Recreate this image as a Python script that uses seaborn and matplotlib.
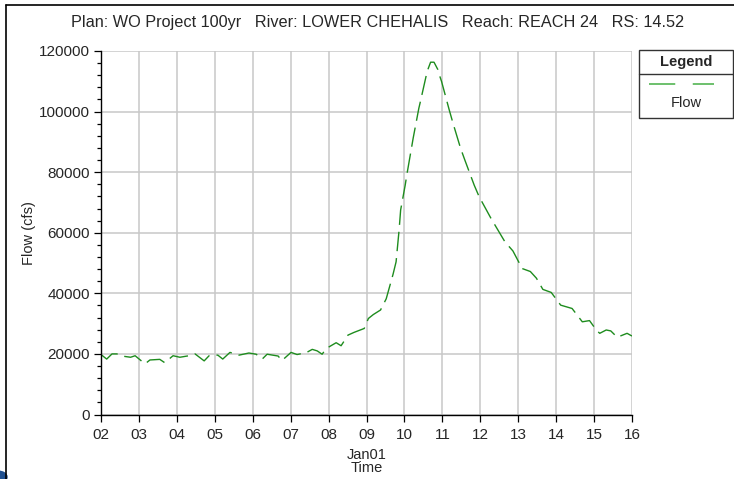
import numpy as np
import pandas as pd
import seaborn as sns
import matplotlib.pyplot as plt
from matplotlib.lines import Line2D
from matplotlib.patches import Rectangle, Circle
from matplotlib.ticker import MultipleLocator, FixedLocator

# hydrograph (day of Jan, flow in cfs)
days = [2.02, 2.15, 2.29, 2.42, 2.55, 2.78, 2.90, 3.16, 3.29, 3.55, 3.68, 3.90,
        4.08, 4.32, 4.48, 4.72, 4.85, 5.08, 5.21, 5.40, 5.64, 5.90, 6.09, 6.25,
        6.38, 6.67, 6.77, 7.01, 7.17, 7.41, 7.57, 7.70, 7.83, 7.94, 8.20, 8.33,
        8.45, 8.51, 8.67, 8.94, 9.05, 9.18, 9.37, 9.52, 9.70, 9.78, 9.86, 9.90,
        10.02, 10.07, 10.20, 10.23, 10.38, 10.41, 10.60, 10.69, 10.78, 10.88,
        10.91, 10.98, 11.18, 11.28, 11.48, 11.59, 11.84, 11.97, 12.28, 12.46,
        12.65, 12.86, 13.02, 13.08, 13.32, 13.48, 13.65, 13.87, 14.12, 14.42,
        14.69, 14.88, 15.07, 15.15, 15.32, 15.44, 15.61, 15.87, 16.00]
flow = [19600, 18300, 20000, 20000, 19300, 18900, 19400, 16700, 18000, 18200,
        17100, 19400, 18900, 19400, 20000, 17700, 19400, 19600, 18300, 20500,
        19600, 20300, 19900, 18300, 19900, 19300, 17800, 20500, 19800, 20400,
        21500, 21000, 19900, 21800, 23700, 22700, 25000, 26200, 27100, 28400,
        31700, 33000, 34500, 38200, 46300, 50400, 61000, 67500, 75700, 79600,
        89000, 91200, 101100, 102700, 113300, 116300, 116300, 113900, 112500,
        109900, 100600, 96200, 87900, 84100, 75700, 71900, 64800, 61000, 57000,
        54000, 50200, 48300, 47200, 45000, 41300, 40300, 36100, 35000, 30600,
        31000, 27700, 26800, 27900, 27600, 25500, 26800, 25900]

day_ticks = list(range(2, 17))
day_labels = ["%02d" % d for d in day_ticks]

title = "Plan: WO Project 100yr   River: LOWER CHEHALIS   Reach: REACH 24   RS: 14.52"

sns.set_style("white")
plt.rcParams["font.family"] = ["Liberation Sans", "DejaVu Sans"]

W, H = 734, 479
fig = plt.figure(figsize=(W / 100, H / 100), dpi=100)
ax = fig.add_axes([101 / W, 1 - 414.5 / H, (632 - 101) / W, (414.5 - 51) / H])

df = pd.DataFrame({"day": days, "Flow": flow})
sns.lineplot(data=df, x="day", y="Flow", ax=ax, color="#1e8c1e", linewidth=1.0,
             dashes=False, legend=False)
ax.lines[0].set_dashes([14, 5])

ax.set_xlim(2, 16)
ax.set_ylim(0, 120000)
ax.xaxis.set_major_locator(FixedLocator(day_ticks))
ax.set_xticklabels(day_labels)
ax.yaxis.set_major_locator(MultipleLocator(20000))
ax.yaxis.set_minor_locator(MultipleLocator(4000))
ax.grid(True, which="major", color="#c8c8c8", linewidth=1.1)
ax.set_axisbelow(True)

for s in ["top", "right"]:
    ax.spines[s].set_visible(False)
for s in ["left", "bottom"]:
    ax.spines[s].set_color("black")
    ax.spines[s].set_linewidth(1.0)

ax.tick_params(axis="both", which="major", direction="out", length=5, width=0.9,
               color="black", labelsize=11, bottom=True, left=True)
ax.tick_params(axis="y", which="major", pad=3)
ax.tick_params(axis="x", which="major", pad=5)
ax.tick_params(axis="y", which="minor", direction="out", length=3, width=0.9,
               color="black", left=True)

ax.set_xlabel("Jan01\nTime", fontsize=10.5, linespacing=0.95, labelpad=4)
ax.set_ylabel("Flow (cfs)", fontsize=10.5, labelpad=2)

fig.text(378 / W, 1 - 22 / H, title, ha="center", va="center", fontsize=11.7)

# outer frame of the plot window
fig.add_artist(Line2D([6 / W, 6 / W], [0, 1 - 5 / H], transform=fig.transFigure,
                      color="black", linewidth=1.2))
fig.add_artist(Line2D([6 / W, 1], [1 - 5 / H, 1 - 5 / H], transform=fig.transFigure,
                      color="black", linewidth=1.2))
fig.add_artist(Circle((-2 / W, 2 / H), 9 / W, transform=fig.transFigure,
                      color="#1f4f8f", clip_on=False))

# legend box drawn like the original program
lx0, lx1, ly0, ly1 = 639 / W, 733 / W, 1 - 118 / H, 1 - 50 / H
fig.add_artist(Rectangle((lx0, ly0), lx1 - lx0, ly1 - ly0, transform=fig.transFigure,
                         fill=False, edgecolor="#333333", linewidth=1.0))
fig.add_artist(Line2D([lx0, lx1], [1 - 74 / H, 1 - 74 / H], transform=fig.transFigure,
                      color="#333333", linewidth=1.0))
fig.text((lx0 + lx1) / 2, 1 - 62 / H, "Legend", ha="center", va="center",
         fontsize=10.5, fontweight="bold")
fig.add_artist(Line2D([649 / W, 714 / W], [1 - 84 / H, 1 - 84 / H],
                      transform=fig.transFigure, color="#6cc06c", linewidth=1.4,
                      dashes=[13.5, 9]))
fig.text((lx0 + lx1) / 2, 1 - 103 / H, "Flow", ha="center", va="center", fontsize=10.5)

fig.savefig("out.png", dpi=100)
plt.close(fig)
